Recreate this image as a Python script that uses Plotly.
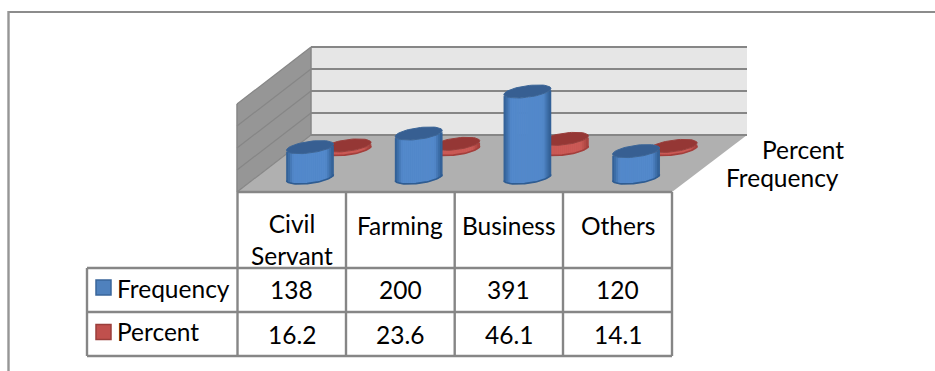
import numpy as np
import plotly.graph_objects as go

categories = ["Civil<br>Servant", "Farming", "Business", "Others"]
series_names = ["Frequency", "Percent"]
frequency = [138, 200, 391, 120]
percent = [16.2, 23.6, 46.1, 14.1]
gridvalues = [0, 100, 200, 300, 400]

W, H = 935, 371
FONT = "Lato"
LINE = "#868686"
PX_PER_CAT = 108.7
PX_PER_VAL = 0.22
X0 = 310.0   # blue first-column centre
Y0 = 177.5   # blue zero level
RX, RY, TILT = 23.5, 5.8, 0.13
DEPTH_X, DEPTH_Y = 37.5, 28.5

xr = [(0 - X0) / PX_PER_CAT, (W - X0) / PX_PER_CAT]
yr = [(Y0 - H) / PX_PER_VAL, (Y0 - 0) / PX_PER_VAL]
px = lambda x: x / W
py = lambda y: 1 - y / H


def lerp_hex(a, b, t):
    a = [int(a[i:i + 2], 16) for i in (1, 3, 5)]
    b = [int(b[i:i + 2], 16) for i in (1, 3, 5)]
    return "#%02x%02x%02x" % tuple(int(round(p + (q - p) * t)) for p, q in zip(a, b))


def cylinder(values, axis, cx_off, lift, dark, light, top, rim):
    """Strips of bars (height = value), a lower rim, and a tilted top ellipse."""
    traces = []
    n = 24
    edges = np.linspace(-RX, RX, n + 1)
    for k in range(n):
        mid = (edges[k] + edges[k + 1]) / 2
        u = mid / RX
        shade = min(1.0, (1 - abs(u)) * 3.2)
        colour = lerp_hex(dark, light, shade)
        low = -TILT * mid + RY * np.sqrt(max(0, 1 - u * u))  # px below centre
        base = (lift - low) / PX_PER_VAL
        traces.append(go.Bar(
            x=[i + (cx_off + mid) / PX_PER_CAT for i in range(len(values))],
            y=values,
            base=[base] * len(values),
            width=(edges[1] - edges[0] + 0.7) / PX_PER_CAT,
            marker=dict(color=colour, line=dict(width=0.02, color=colour)),
            xaxis=axis[0], yaxis=axis[1], showlegend=False, hoverinfo="skip",
        ))
    t = np.linspace(0, np.pi, 40)
    for i in range(len(values)):
        dx = RX * np.cos(t)
        dy = RY * np.sin(t) - TILT * dx
        traces.append(go.Scatter(
            x=i + (cx_off + dx) / PX_PER_CAT,
            y=(lift - dy) / PX_PER_VAL,
            mode="lines", line=dict(color=dark, width=1.6),
            xaxis=axis[0], yaxis=axis[1], showlegend=False, hoverinfo="skip",
        ))
    t = np.linspace(0, 2 * np.pi, 60)
    for i, v in enumerate(values):
        dx = RX * np.cos(t)
        dy = RY * np.sin(t) - TILT * dx
        traces.append(go.Scatter(
            x=i + (cx_off + dx) / PX_PER_CAT,
            y=v + (lift - dy) / PX_PER_VAL,
            mode="lines", fill="toself", fillcolor=top,
            line=dict(color=rim, width=1),
            xaxis=axis[0], yaxis=axis[1], showlegend=False, hoverinfo="skip",
        ))
    return traces


fig = go.Figure()
for tr in cylinder(percent, ("x", "y"), DEPTH_X, DEPTH_Y, "#a33f3c", "#cb5a56", "#953735", "#9a3e3b"):
    fig.add_trace(tr)
for tr in cylinder(frequency, ("x2", "y2"), 0, 0, "#2f5c91", "#5389cb", "#375f92", "#3c6698"):
    fig.add_trace(tr)

shapes = []


def line(x0, y0, x1, y1, w=2.4, c=LINE):
    shapes.append(dict(type="line", xref="paper", yref="paper", x0=px(x0), y0=py(y0), x1=px(x1), y1=py(y1),
                       line=dict(color=c, width=w), layer="below"))


def poly(pts, fill):
    d = "M" + " L".join(f"{px(a):.5f},{py(b):.5f}" for a, b in pts) + " Z"
    shapes.append(dict(type="path", xref="paper", yref="paper", path=d, fillcolor=fill,
                       line=dict(width=0), layer="below"))


# outer frame
line(8, 12, 935, 12, 2, "#8c8c8c")
line(8.5, 11, 8.5, 371, 2.4, "#969696")

# walls and floor
FX0, FX1, BX0, BX1 = 237, 672, 311, 747
FY, BY = 192, 135
poly([(BX0, BY - 88), (BX1, BY - 88), (BX1, BY), (BX0, BY)], "#e6e6e6")
poly([(FX0, FY - 88), (BX0, BY - 88), (BX0, BY), (FX0, FY)], "#969696")
poly([(FX0, FY), (BX0, BY), (BX1, BY), (FX1, FY)], "#b0b0b0")
for g in gridvalues:
    off = g * PX_PER_VAL
    line(BX0, BY - off, BX1, BY - off, 1.8)
    line(FX0, FY - off, BX0, BY - off, 1.2)
line(BX0, BY - 88, BX0, BY, 1.5)
line(FX0, FY - 88, FX0, FY, 1.5)

# data table grid
col_x = [237.5, 346, 454.7, 563, 672]
row_y = [192, 268, 312, 356]
TABLE_LEFT = 87
for x in col_x:
    line(x, row_y[0], x, row_y[3])
line(col_x[0], row_y[0], col_x[4], row_y[0])
for y in row_y[1:]:
    line(TABLE_LEFT, y, col_x[4], y)
line(TABLE_LEFT, row_y[1], TABLE_LEFT, row_y[3])

# legend keys
for (y, fill, edge) in [(287.5, "#4f81bd", "#3a659b"), (332, "#c0504d", "#9a3e3b")]:
    shapes.append(dict(type="rect", xref="paper", yref="paper", x0=px(96), x1=px(111), y0=py(y - 7.5), y1=py(y + 7.5),
                       fillcolor=fill, line=dict(color=edge, width=1.5), layer="above"))

ann = []


def text(x, y, s, xanchor="center"):
    ann.append(dict(x=px(x), y=py(y), xref="paper", yref="paper", text=s, showarrow=False, xanchor=xanchor,
                    yanchor="middle", font=dict(family=FONT, size=24.5, color="#000000"), align="center",
                    borderpad=0, borderwidth=0))


for i, c in enumerate(categories):
    cx = (col_x[i] + col_x[i + 1]) / 2
    text(cx, 240 if "<br>" in c else 225, c)
    text(cx, 289, str(frequency[i]))
    text(cx, 334, str(percent[i]))
text(117, 288, series_names[0], "left")
text(117, 331, series_names[1], "left")
text(803, 149, series_names[1])
text(782, 177, series_names[0])

hidden = dict(visible=False, fixedrange=True)
fig.update_layout(
    width=W, height=H, margin=dict(l=0, r=0, t=0, b=0), autosize=False,
    paper_bgcolor="white", plot_bgcolor="rgba(0,0,0,0)",
    barmode="overlay", showlegend=False, shapes=shapes, annotations=ann,
    xaxis=dict(range=xr, domain=[0, 1], **hidden),
    yaxis=dict(range=yr, domain=[0, 1], **hidden),
    xaxis2=dict(range=xr, domain=[0, 1], overlaying="x", anchor="y2", **hidden),
    yaxis2=dict(range=yr, domain=[0, 1], overlaying="y", anchor="x2", **hidden),
)
fig.write_html("out.html", config={"displayModeBar": False},
               post_script="document.body.style.margin='0';document.body.style.overflow='hidden';")
